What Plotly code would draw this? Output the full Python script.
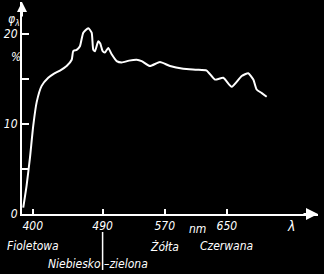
import plotly.graph_objects as go

# wavelength (nm) and relative luminous flux phi_lambda (%)
wavelength = [387.8, 392.2, 396.4, 400.7, 405.1, 411.5, 420.0, 426.5, 435.1, 443.7,
              450.2, 452.2, 456.6, 460.8, 465.1, 471.5, 475.9, 478.0, 480.2, 484.4,
              487.0, 490.1, 493.0, 497.3, 501.7, 508.1, 514.6, 524.0, 533.9, 540.3,
              551.0, 563.9, 576.8, 593.9, 611.2, 624.0, 634.7, 645.4, 656.2, 669.1,
              677.6, 684.1, 688.4, 695.0, 701.3]
phi = [0.7, 3.2, 6.2, 9.8, 12.4, 14.2, 15.1, 15.5, 15.9, 16.4,
       17.1, 18.05, 18.2, 18.6, 20.1, 20.6, 20.1, 18.2, 18.05, 19.15,
       18.9, 18.05, 17.9, 18.4, 17.7, 16.95, 16.8, 17.0, 17.1, 16.95,
       16.4, 16.85, 16.4, 16.1, 16.0, 15.9, 14.9, 15.1, 14.1, 15.3,
       15.6, 14.9, 13.8, 13.4, 13.0]

x_tick_vals = [400, 490, 570, 650]
x_tick_text = ["400", "490", "570", "650"]
y_tick_vals = [0, 5, 10, 15, 20]
y_tick_text = ["0", "", "10", "", "20"]

color_names = ["Fioletowa", "Żółta", "Czerwana"]
color_name_x = [400, 570, 650]

FONT = "Liberation Sans Narrow, DejaVu Sans Condensed, Arial Narrow, sans-serif"
W = "white"
FS = 12

fig = go.Figure()
fig.add_trace(go.Scatter(x=wavelength, y=phi, mode="lines",
                         line=dict(color=W, width=2, shape="spline", smoothing=0.5),
                         hoverinfo="skip"))

fig.update_layout(
    width=324, height=274,
    margin=dict(l=22, r=6, t=2, b=60),
    paper_bgcolor="black", plot_bgcolor="black",
    showlegend=False,
    font=dict(family=FONT, color=W, size=FS, style="italic"),
    xaxis=dict(range=[386.2, 767.4], showgrid=False, zeroline=False,
               showline=True, linecolor=W, linewidth=2,
               tickvals=x_tick_vals, ticktext=x_tick_text,
               ticks="inside", ticklen=5, tickwidth=1.5, tickcolor=W,
               tickfont=dict(family=FONT, color=W, size=FS, style="italic")),
    yaxis=dict(range=[0, 23.5], showgrid=False, zeroline=False,
               showline=True, linecolor=W, linewidth=2,
               tickvals=y_tick_vals, ticktext=y_tick_text,
               ticks="inside", ticklen=7, tickwidth=1.5, tickcolor=W,
               tickfont=dict(family=FONT, color=W, size=FS, style="italic")),
)

ann = []
# axis arrows
ann.append(dict(x=767.4, y=0, xref="x", yref="y", ax=-16, ay=0, text="",
                showarrow=True, arrowhead=2, arrowsize=1.2, arrowwidth=2, arrowcolor=W))
ann.append(dict(x=386.2, y=23.5, xref="x", yref="y", ax=0, ay=16, text="",
                showarrow=True, arrowhead=2, arrowsize=1.0, arrowwidth=2, arrowcolor=W))
# axis titles
ann.append(dict(x=-0.027, y=0.915, xref="paper", yref="paper", xanchor="center", yanchor="middle",
                text="φ<sub>λ</sub>", showarrow=False, font=dict(size=FS)))
ann.append(dict(x=-0.02, y=0.74, xref="paper", yref="paper", xanchor="center", yanchor="middle",
                text="%", showarrow=False, font=dict(size=FS)))
ann.append(dict(x=0.91, y=-0.057, xref="paper", yref="paper", xanchor="center", yanchor="middle",
                text="λ", showarrow=False, font=dict(size=14)))
ann.append(dict(x=612, y=-0.071, xref="x", yref="paper", xanchor="center", yanchor="middle",
                text="nm", showarrow=False, font=dict(size=FS)))
# colour names
for name, xv in zip(color_names, color_name_x):
    ann.append(dict(x=xv, y=-0.151, xref="x", yref="paper", xanchor="center", yanchor="middle",
                    text=name, showarrow=False, font=dict(size=FS)))
ann.append(dict(x=488, y=-0.236, xref="x", yref="paper", xanchor="right", yanchor="middle",
                text="Niebiesko", showarrow=False, font=dict(size=FS), xshift=2))
ann.append(dict(x=491.5, y=-0.236, xref="x", yref="paper", xanchor="left", yanchor="middle",
                text="–zielona", showarrow=False, font=dict(size=FS), xshift=-2))
fig.update_layout(annotations=ann)

# marker line from 490 tick down to the blue-green label
fig.add_shape(type="line", x0=490, x1=490, y0=-0.085, y1=-0.264, xref="x", yref="paper",
              line=dict(color=W, width=1.5))

fig.write_html("out.html")
